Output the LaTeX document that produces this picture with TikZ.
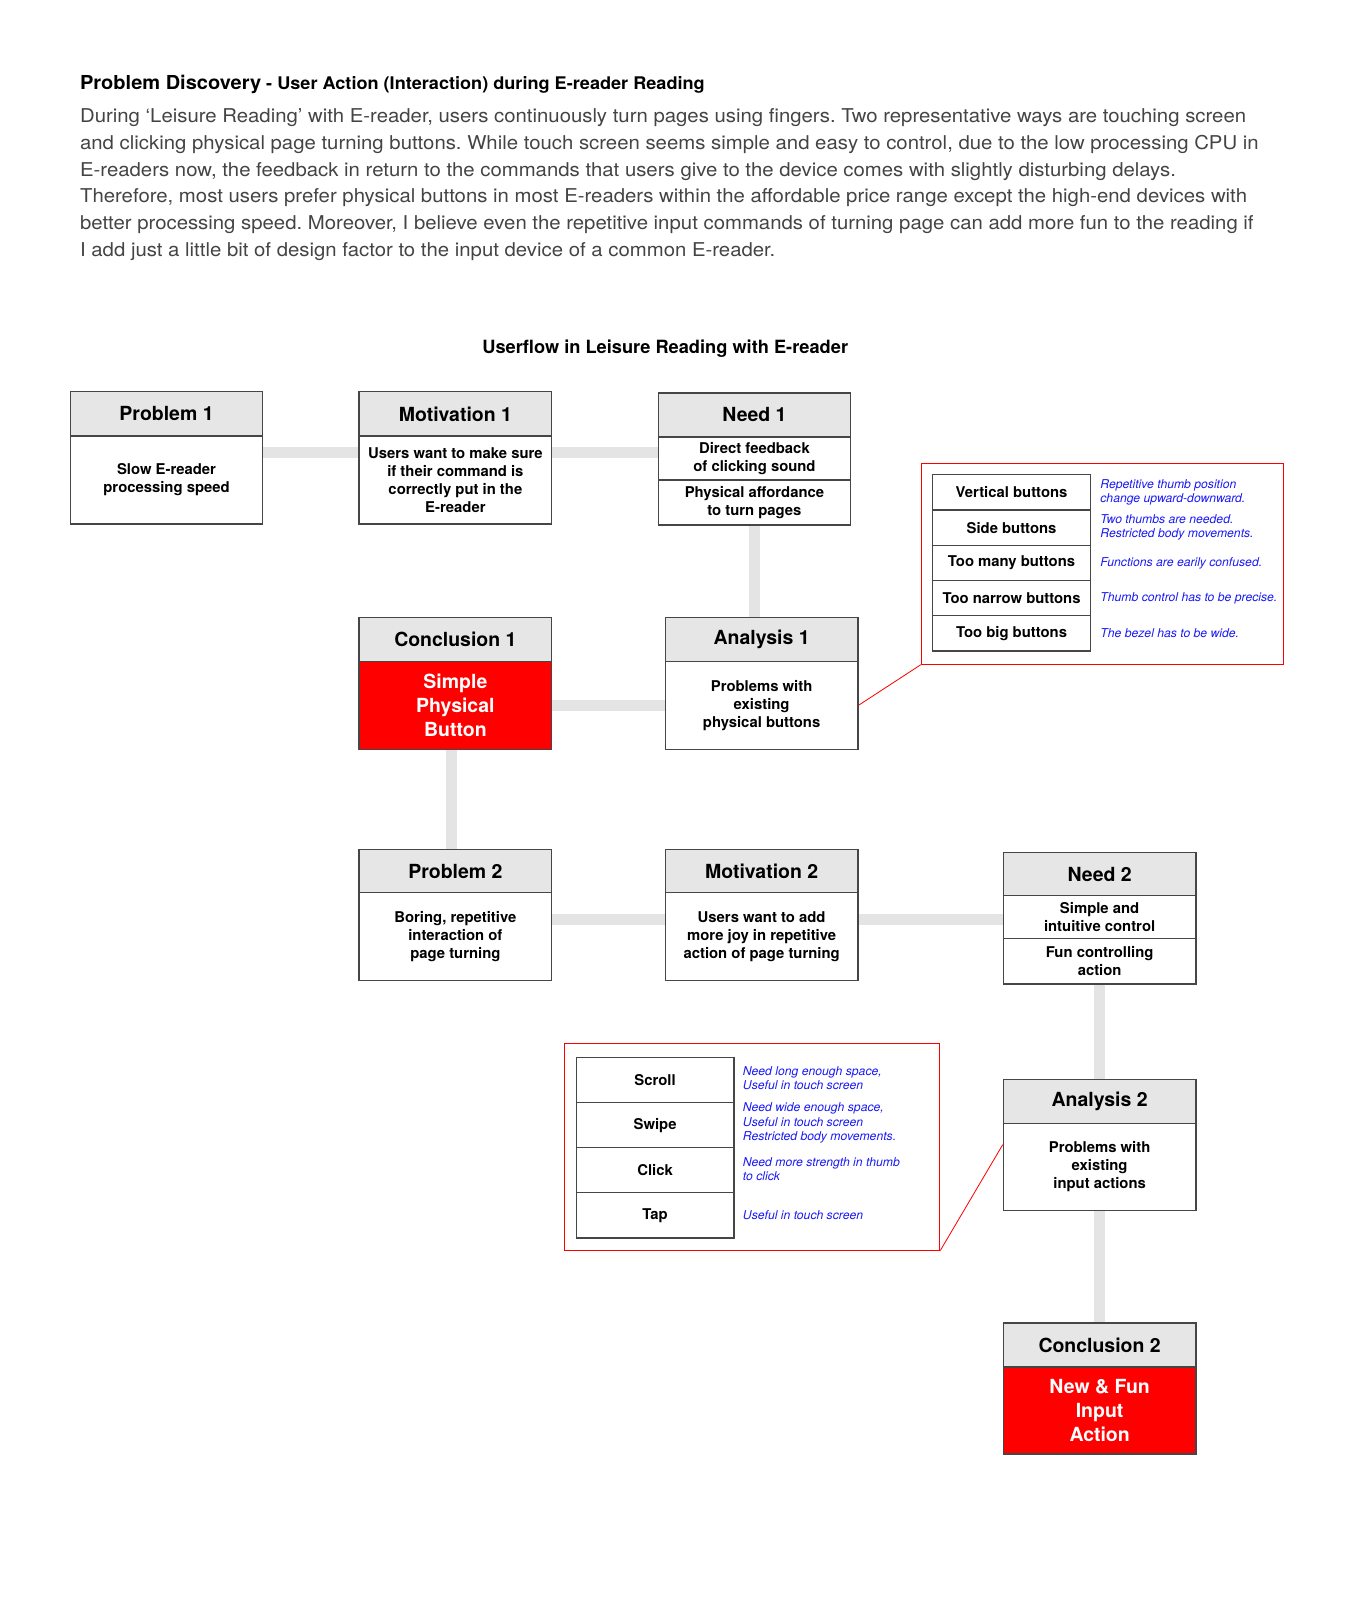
\documentclass[tikz,border=0pt]{standalone}
\usepackage{fontspec}
\setmainfont{TeX Gyre Heros}
\newfontfamily\bodyfont[FakeStretch=1.068]{TeX Gyre Heros}
\newfontfamily\titlefont[FakeStretch=1.04]{TeX Gyre Heros}
\usetikzlibrary{calc}
\definecolor{hdrgray}{RGB}{230,230,230}
\definecolor{conngray}{RGB}{228,228,228}
\definecolor{boxline}{RGB}{70,70,70}
\definecolor{bodytext}{RGB}{68,68,68}
\definecolor{notered}{RGB}{255,0,0}
\definecolor{noteblue}{RGB}{25,25,245}
\frenchspacing
\begin{document}
\begin{tikzpicture}[x=1pt,y=-1pt,
  hdr/.style={draw=boxline, line width=1.2pt, fill=hdrgray, inner sep=0pt, minimum width=188pt, minimum height=43pt, anchor=north west, font=\bfseries\fontsize{19}{23}\selectfont, align=center},
  bodybox/.style={draw=boxline, line width=1.2pt, fill=white, inner sep=0pt, minimum width=188pt, minimum height=86pt, anchor=north west, font=\bfseries\fontsize{14.5}{17.7}\selectfont, align=center},
  redbox/.style={bodybox, fill=notered, text=white, font=\bfseries\fontsize{19}{23}\selectfont},
  conn/.style={conngray, line width=11pt},
  panel/.style={draw=notered, line width=1pt, inner sep=0pt, anchor=north west},
  tabrow/.style={draw=boxline, line width=1.2pt, inner sep=0pt, minimum width=154pt, anchor=north west, font=\bfseries\fontsize{14.5}{17}\selectfont},
  note/.style={anchor=west, inner sep=0pt, text=noteblue, font=\itshape\fontsize{11.9}{14}\selectfont, align=left},
  leader/.style={notered, line width=0.8pt},
  bodyline/.style={anchor=base west, inner sep=0pt, text=bodytext, font=\bodyfont\fontsize{18.6}{26.2}\selectfont}
]
\useasboundingbox (0,0) rectangle (1334,1568);

% ---- heading and paragraph
\node[anchor=base west, inner sep=0pt, font=\titlefont\bfseries] (ttl) at (78,87.5)
  {{\fontsize{18.8}{23}\selectfont Problem Discovery}\fontsize{17}{20}\selectfont{} - User Action (Interaction) during E-reader Reading};
\node[bodyline] (bl1) at (78,119.5) {During ‘Leisure Reading’ with E-reader, users continuously turn pages using fingers. Two representative ways are touching screen};
\node[bodyline] (bl2) at (78,145.7) {and clicking physical page turning buttons. While touch screen seems simple and easy to control, due to the low processing CPU in};
\node[bodyline] (bl3) at (78,171.9) {E-readers now, the feedback in return to the commands that users give to the device comes with slightly disturbing delays.};
\node[bodyline] (bl4) at (78,198.1) {Therefore, most users prefer physical buttons in most E-readers within the affordable price range except the high-end devices with};
\node[bodyline] (bl5) at (78,224.3) {better processing speed. Moreover, I believe even the repetitive input commands of turning page can add more fun to the reading if};
\node[bodyline] (bl6) at (78,250.5) {I add just a little bit of design factor to the input device of a common E-reader.};

\node[inner sep=0pt, font=\bfseries\fontsize{17.8}{21}\selectfont] (uft) at (649.5,340) {Userflow in Leisure Reading with E-reader};

% ---- boxes
\node[hdr] (p1h) at (68,382) {Problem 1};
\node[bodybox] (p1b) at (68,425) {Slow E-reader\\processing speed};

\node[hdr] (m1h) at (350,382) {Motivation 1};
\node[bodybox] (m1b) at (350,425) {Users want to make sure\\if their command is\\correctly put in the\\E-reader};

\node[hdr] (n1h) at (642,383) {Need 1};
\node[bodybox, minimum height=42pt] (n1a) at (642,426) {Direct feedback\\of clicking sound};
\node[bodybox, minimum height=44pt] (n1b) at (642,468) {Physical affordance\\to turn pages};

\node[hdr] (c1h) at (350,602) {Conclusion 1};
\node[redbox] (c1b) at (350,645) {Simple\\Physical\\Button};

\node[hdr] (an1h) at (649,602) {Analysis 1};
\node[bodybox] (an1b) at (649,645) {Problems with\\existing\\physical buttons};

\node[hdr] (p2h) at (350,829) {Problem 2};
\node[bodybox] (p2b) at (350,871) {Boring, repetitive\\interaction of\\page turning};

\node[hdr] (m2h) at (649,829) {Motivation 2};
\node[bodybox] (m2b) at (649,871) {Users want to add\\more joy in repetitive\\action of page turning};

\node[hdr, minimum height=42pt] (n2h) at (979,832) {Need 2};
\node[bodybox, minimum height=42pt] (n2a) at (979,874) {Simple and\\intuitive control};
\node[bodybox, minimum height=44pt] (n2b) at (979,916) {Fun controlling\\action};

\node[hdr] (an2h) at (979,1053) {Analysis 2};
\node[bodybox, minimum height=85pt] (an2b) at (979,1096) {Problems with\\existing\\input actions};

\node[hdr] (c2h) at (979,1291) {Conclusion 2};
\node[redbox, minimum height=85pt] (c2b) at (979,1334) {New \& Fun\\Input\\Action};

% ---- gray connectors
\draw[conn] ([yshift=-17pt]p1b.north east) -- ([yshift=-17pt]m1b.north west);
\draw[conn] ([yshift=-17pt]m1b.north east) -- ([yshift=-16pt]n1a.north west);
\draw[conn] (n1b.south) -- (n1b.south |- an1h.north);
\draw[conn] (an1b.west) -- (c1b.east);
\draw[conn] ([xshift=-4pt]c1b.south) -- ([xshift=-4pt]p2h.north);
\draw[conn] ([yshift=-27pt]p2b.north east) -- ([yshift=-27pt]m2b.north west);
\draw[conn] ([yshift=-27pt]m2b.north east) -- ([yshift=-24pt]n2a.north west);
\draw[conn] (n2b.south) -- (n2b.south |- an2h.north);
\draw[conn] (an2b.south) -- (c2h.north);

% ---- panel 1
\node[panel, minimum width=354pt, minimum height=196pt] (pan1) at (899,452) {};
\node[tabrow, minimum height=34.4pt] (v1) at (910,463) {Vertical buttons};
\node[tabrow, minimum height=34.4pt] (v2) at (910,497.4) {Side buttons};
\node[tabrow, minimum height=34.4pt] (v3) at (910,531.8) {Too many buttons};
\node[tabrow, minimum height=34.4pt] (v4) at (910,566.2) {Too narrow buttons};
\node[tabrow, minimum height=34.4pt] (v5) at (910,600.6) {Too big buttons};
\node[note] (vn1) at ([xshift=9pt]v1.east) {Repetitive thumb position\\change upward-downward.};
\node[note] (vn2) at ([xshift=9pt]v2.east) {Two thumbs are needed.\\Restricted body movements.};
\node[note] (vn3) at ([xshift=9pt]v3.east) {Functions are earily confused.};
\node[note] (vn4) at ([xshift=9pt]v4.east) {Thumb control has to be precise.};
\node[note] (vn5) at ([xshift=9pt]v5.east) {The bezel has to be wide.};
\draw[leader] (an1b.east) -- (pan1.south west);

% ---- panel 2
\node[panel, minimum width=366pt, minimum height=202pt] (pan2) at (551,1018) {};
\node[tabrow, minimum height=44pt] (s1) at (562,1032) {Scroll};
\node[tabrow, minimum height=44pt] (s2) at (562,1076) {Swipe};
\node[tabrow, minimum height=44pt] (s3) at (562,1120) {Click};
\node[tabrow, minimum height=44pt] (s4) at (562,1164) {Tap};
\node[note] (sn1) at ([xshift=8pt,yshift=2pt]s1.east) {Need long enough space,\\Useful in touch screen};
\node[note] (sn2) at ([xshift=8pt,yshift=2pt]s2.east) {Need wide enough space,\\Useful in touch screen\\Restricted body movements.};
\node[note] (sn3) at ([xshift=8pt,yshift=1pt]s3.east) {Need more strength in thumb\\to click};
\node[note] (sn4) at ([xshift=8pt]s4.east) {Useful in touch screen};
\draw[leader] (pan2.south east) -- ($(an2b.north west)!0.25!(an2b.south west)$);
\end{tikzpicture}
\end{document}
